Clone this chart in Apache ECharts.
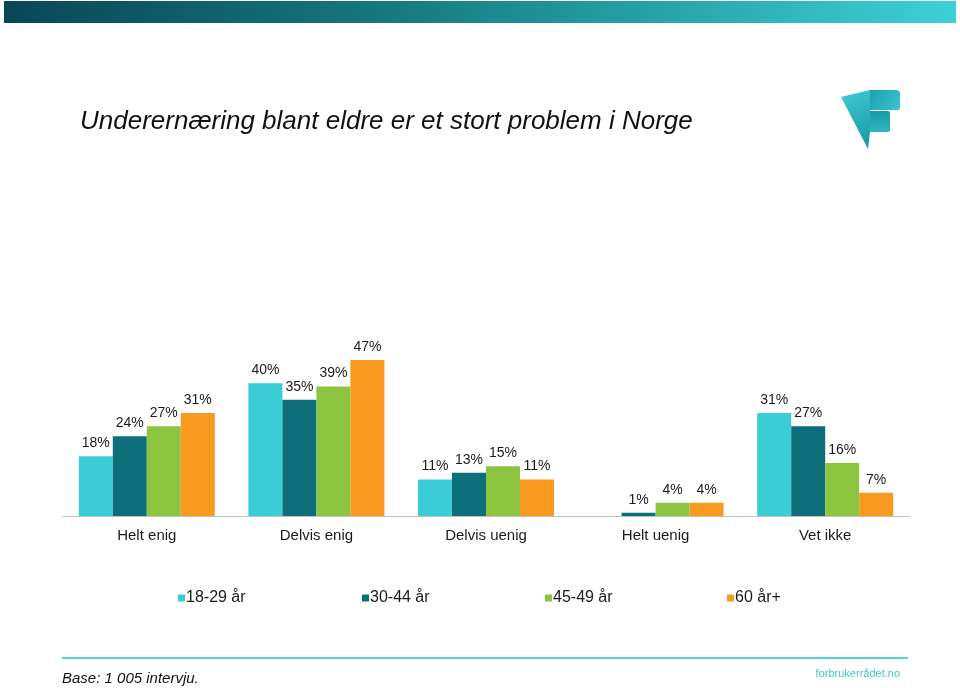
<!DOCTYPE html>
<html>
<head>
<meta charset="utf-8">
<script src="https://cdn.jsdelivr.net/npm/echarts@6/dist/echarts.min.js"></script>
<style>
html,body{margin:0;padding:0;background:#fff;}
#chart{width:960px;height:688px;}
</style>
</head>
<body>
<div id="chart"></div>
<script>
var categories = ['Helt enig', 'Delvis enig', 'Delvis uenig', 'Helt uenig', 'Vet ikke'];
var seriesNames = ['18-29 år', '30-44 år', '45-49 år', '60 år+'];
var age18to29 = [18, 40, 11, null, 31];
var age30to44 = [24, 35, 13, 1, 27];
var age45to49 = [27, 39, 15, 4, 16];
var age60plus = [31, 47, 11, 4, 7];
var titleText = 'Underernæring blant eldre er et stort problem i Norge';
var baseText = 'Base: 1 005 intervju.';
var siteText = 'forbrukerrådet.no';

var colors = ['#3bcdd5', '#0e6f7b', '#8cc540', '#f79a1f'];
var seriesData = [age18to29, age30to44, age45to49, age60plus];
var FONT = '"Liberation Sans", Arial, sans-serif';

var chart = echarts.init(document.getElementById('chart'), null, {renderer: 'canvas'});

var series = seriesNames.map(function (name, i) {
  return {
    name: name,
    type: 'bar',
    data: seriesData[i],
    barWidth: 34,
    barGap: '0%',
    itemStyle: {color: colors[i]},
    label: {
      show: true,
      position: 'top',
      distance: 6,
      fontFamily: FONT,
      fontSize: 14,
      color: '#1a1a1a',
      formatter: function (p) { return p.value == null ? '' : p.value + '%'; }
    }
  };
});

var legendLefts = [178, 362, 545, 727];
var legends = seriesNames.map(function (name, i) {
  return {
    data: [name],
    left: legendLefts[i],
    top: 590,
    itemWidth: 7,
    itemHeight: 7,
    itemGap: 0,
    padding: 0,
    icon: 'rect',
    selectedMode: false,
    textStyle: {fontFamily: FONT, fontSize: 16, color: '#1a1a1a', padding: [0, 0, 0, -4]}
  };
});

chart.setOption({
  animation: false,
  color: colors,
  grid: {left: 62, right: 50, top: 350, bottom: 172, containLabel: false},
  legend: legends,
  xAxis: {
    type: 'category',
    data: categories,
    axisLine: {lineStyle: {color: '#c0c0c0', width: 1}},
    axisTick: {show: false},
    axisLabel: {fontFamily: FONT, fontSize: 15, color: '#1a1a1a', margin: 12}
  },
  yAxis: {
    type: 'value',
    min: 0,
    max: 50,
    show: false,
    splitLine: {show: false}
  },
  series: series,
  graphic: [
    {
      type: 'rect',
      shape: {x: 4, y: 1, width: 952, height: 22},
      style: {
        fill: new echarts.graphic.LinearGradient(0, 0, 1, 0, [
          {offset: 0, color: '#0a4656'},
          {offset: 0.4, color: '#15787f'},
          {offset: 1, color: '#3dd0d8'}
        ])
      }
    },
    {
      type: 'text',
      left: 80,
      top: 109,
      style: {
        text: titleText,
        fontFamily: FONT,
        fontStyle: 'italic',
        fontSize: 26,
        fill: '#111111'
      }
    },
    {
      type: 'polygon',
      shape: {points: [[841, 97], [870, 90], [870, 132], [868, 149]]},
      style: {
        fill: new echarts.graphic.LinearGradient(0, 0, 1, 1, [
          {offset: 0, color: '#40ccd4'},
          {offset: 1, color: '#1795a4'}
        ])
      }
    },
    {
      type: 'rect',
      shape: {x: 870, y: 90, width: 30, height: 20, r: [0, 4, 2, 0]},
      style: {
        fill: new echarts.graphic.LinearGradient(0, 0, 1, 1, [
          {offset: 0, color: '#1d9faf'},
          {offset: 1, color: '#38c6cf'}
        ])
      }
    },
    {
      type: 'rect',
      shape: {x: 870, y: 111, width: 20, height: 21, r: [0, 2, 2, 0]},
      style: {
        fill: new echarts.graphic.LinearGradient(0, 0, 0, 1, [
          {offset: 0, color: '#1a98a6'},
          {offset: 1, color: '#2db6c1'}
        ])
      }
    },
    {
      type: 'line',
      shape: {x1: 62, y1: 658, x2: 908, y2: 658},
      style: {stroke: '#56d0da', lineWidth: 2}
    },
    {
      type: 'text',
      left: 62,
      top: 671,
      style: {
        text: baseText,
        fontFamily: FONT,
        fontStyle: 'italic',
        fontSize: 15,
        fill: '#111111'
      }
    },
    {
      type: 'text',
      right: 60,
      top: 668,
      style: {
        text: siteText,
        fontFamily: FONT,
        fontSize: 11,
        fill: '#3cc8d0'
      }
    }
  ]
});
</script>
</body>
</html>
